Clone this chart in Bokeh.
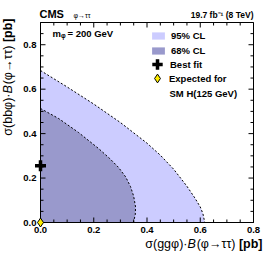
from math import pi
from bokeh.plotting import figure
from bokeh.core.properties import value
from bokeh.models import (Range1d, FixedTicker, LinearAxis, Legend,
                          LegendItem, PrintfTickFormatter)
from bokeh.embed import file_html
from bokeh.resources import INLINE

# ---- data ----
outer_x = [0.0, 0.100, 0.200, 0.300, 0.400, 0.450, 0.500, 0.550, 0.580, 0.600, 0.610, 0.617]
outer_y = [0.684, 0.610, 0.533, 0.450, 0.357, 0.303, 0.240, 0.163, 0.110, 0.070, 0.040, 0.0]
inner_x = [0.0, 0.068, 0.143, 0.218, 0.260, 0.293, 0.320, 0.338, 0.350, 0.357, 0.356, 0.349]
inner_y = [0.513, 0.468, 0.405, 0.333, 0.288, 0.248, 0.205, 0.162, 0.118, 0.070, 0.035, 0.0]
best_x = [0.0]
best_y = [0.255]
sm_x = [0.0]
sm_y = [0.0]
x_major = [0.0, 0.2, 0.4, 0.6, 0.8]
x_minor = [0.05, 0.1, 0.15, 0.25, 0.3, 0.35, 0.45, 0.5, 0.55, 0.65, 0.7, 0.75]
y_major = [0.0, 0.2, 0.4, 0.6, 0.8]
y_minor = [0.05, 0.1, 0.15, 0.25, 0.3, 0.35, 0.45, 0.5, 0.55, 0.65, 0.7, 0.75, 0.85]

FONT = "Liberation Sans"
X_LO, X_HI, Y_LO, Y_HI = 0.0, 0.8, 0.0, 0.9

p = figure(width=266, height=255, x_range=Range1d(X_LO, X_HI), y_range=Range1d(Y_LO, Y_HI),
           output_backend="svg", toolbar_location=None,
           x_axis_location=None, y_axis_location=None,
           min_border_left=40, min_border_right=13, min_border_top=22, min_border_bottom=33)
p.grid.visible = False
p.outline_line_color = "black"
p.outline_line_width = 1
p.outline_line_alpha = 1
p.background_fill_color = "white"
p.border_fill_color = "white"


def base_axis(ticks, minor):
    ax = LinearAxis(ticker=FixedTicker(ticks=ticks, minor_ticks=minor))
    ax.major_tick_in = 0
    ax.major_tick_out = 0
    ax.minor_tick_in = 0
    ax.minor_tick_out = 0
    ax.axis_line_color = "black"
    ax.formatter = PrintfTickFormatter(format="%.1f")
    ax.major_label_standoff = 4
    ax.major_label_text_font = FONT
    ax.major_label_text_font_style = "bold"
    ax.major_label_text_font_size = "9.5px"
    ax.major_label_text_color = "black"
    return ax


p.add_layout(base_axis(x_major, x_minor), "below")
p.add_layout(base_axis(y_major, y_minor), "left")

r_out = p.patch(outer_x + [0.0], outer_y + [0.0], fill_color="#ccccff", line_color=None)
r_in = p.patch(inner_x + [0.0], inner_y + [0.0], fill_color="#9999cc", line_color=None)
p.line(outer_x, outer_y, line_color="black", line_dash="2 2", line_width=1)
p.line(inner_x, inner_y, line_color="black", line_dash="2 2", line_width=1)

# page pixel <-> data scale (frame: 213 px for 0.8, 200 px for 0.9)
X0, SX = 40.0, 266.25
Y0, SY = 222.0, 222.2

# inward tick marks on all four sides, drawn as short dash markers
for ticks, ln in ((x_major, 5), (x_minor, 3)):
    n = len(ticks)
    p.scatter(x=list(ticks), y=[Y_LO + ln / 2 / SY] * n, marker="dash", size=ln,
              angle=pi / 2, line_color="black", line_width=1, level="overlay")
    p.scatter(x=list(ticks), y=[Y_HI - ln / 2 / SY] * n, marker="dash", size=ln,
              angle=pi / 2, line_color="black", line_width=1, level="overlay")
for ticks, ln in ((y_major, 5), (y_minor, 3)):
    n = len(ticks)
    p.scatter(x=[X_LO + ln / 2 / SX] * n, y=list(ticks), marker="dash", size=ln,
              line_color="black", line_width=1, level="overlay")
    p.scatter(x=[X_HI - ln / 2 / SX] * n, y=list(ticks), marker="dash", size=ln,
              line_color="black", line_width=1, level="overlay")

r_best = p.scatter(best_x, best_y, marker="cross", size=11, line_width=3.5,
                   line_color="black", level="overlay")
r_sm = p.scatter(sm_x, sm_y, marker="diamond", size=9, fill_color="#ffee00",
                 line_color="black", line_width=1, level="overlay")


def dx(px):
    return (px - X0) / SX


def dy(py):
    return (Y0 - py) / SY


def lab(px, py, text, size, style="normal", align="left", angle=0.0):
    p.text(x=[dx(px)], y=[dy(py)], text=[text], text_font=value(FONT),
           text_font_size=value(size), text_font_style=style, text_align=align,
           text_baseline="middle", angle=angle, text_color="black", level="overlay")


# header
lab(39, 13.5, "CMS", "11px", "bold")
lab(73, 15, "φ→ττ", "7px")
lab(253, 15, "19.7 fb⁻¹ (8 TeV)", "8.5px", "bold", "right")

# m_phi
lab(52, 33, "m", "9.5px", "bold")
lab(60.5, 35.5, "φ", "6.5px", "bold")
lab(67, 33, "= 200 GeV", "9.5px", "bold")

# x-axis title
lab(262, 243, "[pb]", "12.5px", "bold", "right")
lab(235, 243, "(φ→ττ)", "12.5px", "normal", "right")
lab(187, 243, "B", "12.5px", "italic", "left")
lab(187, 243, "σ(ggφ)·", "12.5px", "normal", "right")

# y-axis title (rotated)
lab(7, 18, "[pb]", "12.5px", "bold", "right", pi / 2)
lab(7, 45, "(φ→ττ)", "12.5px", "normal", "right", pi / 2)
lab(7, 93, "B", "12.5px", "italic", "left", pi / 2)
lab(7, 93, "σ(bbφ)·", "12.5px", "normal", "right", pi / 2)


def mk_legend(item, vx, vy, gw, gh, lh, standoff):
    lg = Legend(items=[item], location=(vx, vy), glyph_width=gw, glyph_height=gh,
                label_height=lh, label_standoff=standoff, spacing=0, padding=0, margin=0,
                border_line_alpha=0, background_fill_alpha=0,
                label_text_font=FONT, label_text_font_style="bold",
                label_text_font_size="9.5px", label_text_color="black")
    p.add_layout(lg)


mk_legend(LegendItem(label="95% CL", renderers=[r_out]), 110, 181, 16, 9, 9, 5)
mk_legend(LegendItem(label="68% CL", renderers=[r_in]), 110, 166, 16, 9, 9, 5)
mk_legend(LegendItem(label="Best fit", renderers=[r_best]), 104, 145, 26, 26, 26, 0)
mk_legend(LegendItem(label="Expected for", renderers=[r_sm]), 106, 133, 22, 22, 22, 1)
lab(169, 93, "SM H(125 GeV)", "9.5px", "bold")

open("out.html", "w").write(file_html(p, INLINE))
